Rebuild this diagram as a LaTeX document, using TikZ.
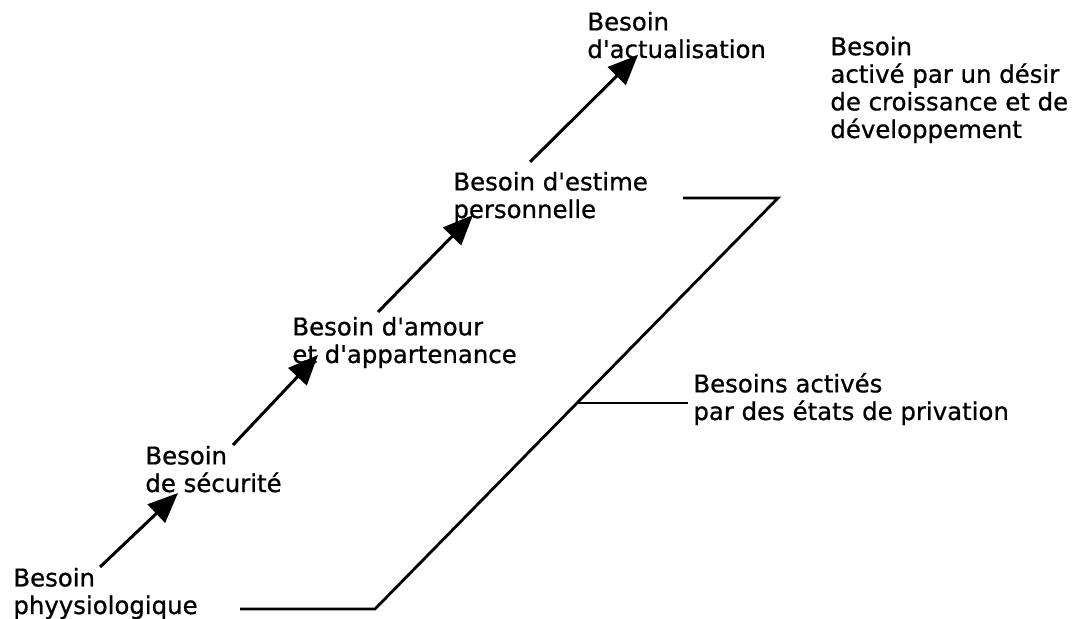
\documentclass[tikz,border=0pt]{standalone}
\usepackage{fontspec}
\setmainfont{DejaVu Sans}[BoldFont={DejaVu Sans},BoldFeatures={FakeBold=0.8}]
\usetikzlibrary{arrows.meta}

\begin{document}
\begin{tikzpicture}[x=0.5pt,y=-0.5pt,
  every node/.style={font=\fontsize{12.2}{13.8}\selectfont\bfseries}
]

\tikzstyle{besoin}=[anchor=base west,align=left,inner sep=0pt]
\tikzstyle{fleche}=[line width=1.5pt,-{Triangle[length=15pt,width=12.5pt]}]
\tikzstyle{trait}=[line width=1.4pt]

\useasboundingbox (0,0) rectangle (1080,619);

% les besoins (ancre sur la derniere ligne)
\node [besoin] (physio) at (13,614) {Besoin\\phyysiologique};
\node [besoin] (secu) at (145,492) {Besoin\\de sécurité};
\node [besoin] (amour) at (292,363) {Besoin d\textquotesingle amour\\et d\textquotesingle appartenance};
\node [besoin] (estime) at (453,218) {Besoin d\textquotesingle estime\\personnelle};
\node [besoin] (actu) at (587,58) {Besoin\\d\textquotesingle actualisation};
\node [besoin] (croiss) at (830,138) {Besoin\\activé par un désir\\de croissance et de\\développement};
\node [besoin] (priv) at (693,420) {Besoins activés\\par des états de privation};

% fleches
\coordinate (f1a) at (100,567);
\coordinate (f1b) at (178,493);
\coordinate (f2a) at (233,445);
\coordinate (f2b) at (318,355);
\coordinate (f3a) at (378,312);
\coordinate (f3b) at (473,215);
\coordinate (f4a) at (530,162);
\coordinate (f4b) at (638,55);

\draw [fleche] (f1a) -- (f1b);
\draw [fleche] (f2a) -- (f2b);
\draw [fleche] (f3a) -- (f3b);
\draw [fleche] (f4a) -- (f4b);

% accolade
\coordinate (bas) at (240,609);
\coordinate (coin1) at (375,609);
\coordinate (coin2) at (778,198);
\coordinate (haut) at (683,198);
\coordinate (milieu) at (577,403);

\draw [trait] (bas) -- (coin1) -- (coin2) -- (haut);
\draw [trait] (milieu) -- ([xshift=-2.5pt]priv.west |- milieu);

\end{tikzpicture}
\end{document}
